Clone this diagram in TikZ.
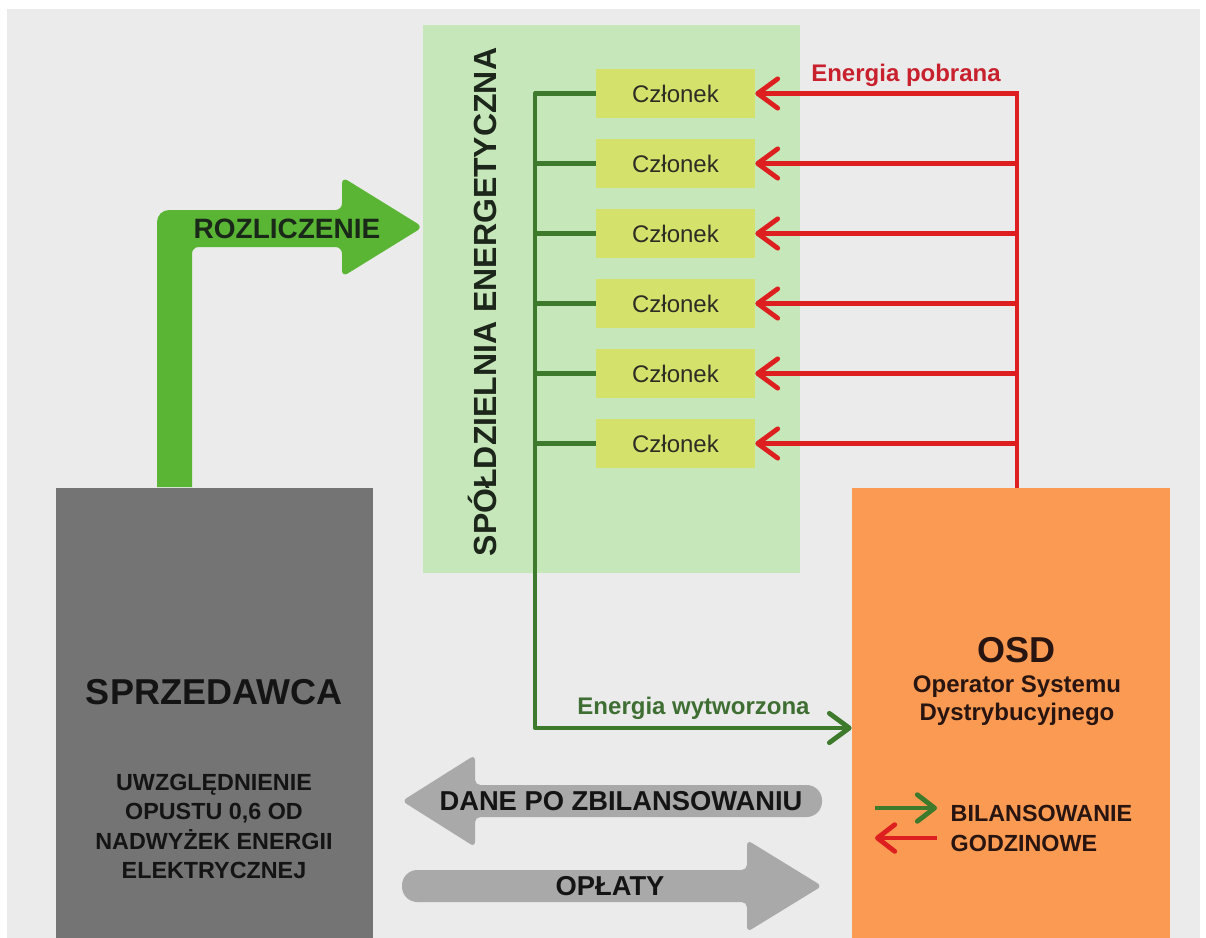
\documentclass[tikz,border=0pt]{standalone}
\usepackage{fontspec}
\setmainfont{Liberation Sans}
\usetikzlibrary{arrows.meta}

\begin{document}
\begin{tikzpicture}[x=0.75pt,y=0.75pt,yscale=-1,xscale=1,
    czlonek/.style={fill={rgb, 255:red, 212; green, 226; blue, 108 }, minimum width=119.25pt, minimum height=36.75pt, inner sep=0pt, font=\fontsize{18}{22}\selectfont, text={rgb, 255:red, 45; green, 45; blue, 35 }},
    gline/.style={draw={rgb, 255:red, 61; green, 122; blue, 44 }, line width=3.6pt},
    rline/.style={draw={rgb, 255:red, 221; green, 31; blue, 31 }, line width=3.6pt},
    barb/.style={-{Straight Barb[length=15pt,width=22pt,round]}},
    smallbarb/.style={-{Straight Barb[length=13pt,width=20pt,round]}},
    bigtext/.style={font=\bfseries\fontsize{21}{25}\selectfont, text={rgb, 255:red, 20; green, 20; blue, 20 }},
  ]
        %uncomment if require: \path (0,938);

        %Shape: Background
        \fill [white] (0,0) rectangle (1206,938) ;
        \fill [fill={rgb, 255:red, 235; green, 235; blue, 235 }] (7,9) rectangle (1200,938) ;
        \useasboundingbox (0,0) rectangle (1206,938) ;

        %Shape: Rectangle (spoldzielnia)
        \fill [fill={rgb, 255:red, 198; green, 231; blue, 185 }] (423,25) rectangle (800,573) ;

        %Shape: Polygon (rozliczenie)
        \fill [fill={rgb, 255:red, 90; green, 181; blue, 53 }, rounded corners=5pt] (157,487) [rounded corners=9pt] -- (157,210) [rounded corners=5pt] -- (342,210) -- (342,177) -- (423,227) -- (342,277) -- (342,247) -- (192,247) [sharp corners] -- (192,487) -- cycle ;

        %Shape: Polygon (dane po zbilansowaniu)
        \fill [fill={rgb, 255:red, 169; green, 169; blue, 169 }, rounded corners=4pt] (640,785) -- (475,785) -- (475,755) -- (402,801) -- (475,847) -- (475,817) [rounded corners=11.5pt] -- (822,817) -- (822,785) -- (640,785) ;
        %Shape: Polygon (oplaty)
        \fill [fill={rgb, 255:red, 169; green, 169; blue, 169 }, rounded corners=4pt] (600,870) -- (747,870) -- (747,840) -- (822,886) -- (747,932) -- (747,902) [rounded corners=11.5pt] -- (402,902) -- (402,870) -- (600,870) ;

        %Shape: Rectangle (sprzedawca)
        \node [fill={rgb, 255:red, 116; green, 116; blue, 116 }, minimum width=237.75pt, minimum height=337.5pt, inner sep=0pt] (sprz) at (214.5,712.5) {};
        %Shape: Rectangle (osd)
        \node [fill={rgb, 255:red, 251; green, 154; blue, 82 }, minimum width=238.5pt, minimum height=337.5pt, inner sep=0pt] (osd) at (1011,713) {};

        % Czlonkowie
        \node [czlonek] (m1) at (675.5,93.5) {Członek};
        \node [czlonek] (m2) at (675.5,163.5) {Członek};
        \node [czlonek] (m3) at (675.5,233.5) {Członek};
        \node [czlonek] (m4) at (675.5,303.5) {Członek};
        \node [czlonek] (m5) at (675.5,373.5) {Członek};
        \node [czlonek] (m6) at (675.5,443.5) {Członek};

        %Straight Lines (energia wytworzona)
        \coordinate (trunktop) at (535,93.5) ;
        \coordinate (trunkbot) at (535,728) ;
        \draw [gline, barb, line join=round] (m1.west) -- (trunktop) -- (trunkbot) -- (trunkbot -| osd.west) ;
        \draw [gline] (m2.west) -- (m2.west -| trunktop) ;
        \draw [gline] (m3.west) -- (m3.west -| trunktop) ;
        \draw [gline] (m4.west) -- (m4.west -| trunktop) ;
        \draw [gline] (m5.west) -- (m5.west -| trunktop) ;
        \draw [gline] (m6.west) -- (m6.west -| trunktop) ;

        %Straight Lines (energia pobrana)
        \coordinate (redtop) at (1017,93.5) ;
        \draw [rline, barb] (osd.north -| redtop) -- (redtop) -- (m1.east) ;
        \draw [rline, barb] (m2.east -| redtop) -- (m2.east) ;
        \draw [rline, barb] (m3.east -| redtop) -- (m3.east) ;
        \draw [rline, barb] (m4.east -| redtop) -- (m4.east) ;
        \draw [rline, barb] (m5.east -| redtop) -- (m5.east) ;
        \draw [rline, barb] (m6.east -| redtop) -- (m6.east) ;

        %Straight Lines (bilansowanie)
        \coordinate (bil1) at (875,808) ;
        \coordinate (bil2) at (937,808) ;
        \coordinate (bil3) at (937,838) ;
        \coordinate (bil4) at (875,838) ;
        \draw [gline, smallbarb] (bil1) -- (bil2) ;
        \draw [rline, smallbarb] (bil3) -- (bil4) ;

        % Text Node
        \node [rotate=90, font=\bfseries\fontsize{24}{28}\selectfont, text={rgb, 255:red, 28; green, 38; blue, 26 }] (coop) at (482,302) {SPÓŁDZIELNIA ENERGETYCZNA};
        % Text Node
        \node [font=\bfseries\fontsize{18}{22}\selectfont, text={rgb, 255:red, 200; green, 32; blue, 44 }] (pobrana) at (906,75) {Energia pobrana};
        % Text Node
        \node [font=\bfseries\fontsize{18}{22}\selectfont, text={rgb, 255:red, 63; green, 110; blue, 51 }] (wytworzona) at (693.5,708) {Energia wytworzona};
        % Text Node
        \node [bigtext, text={rgb, 255:red, 26; green, 40; blue, 26 }] (rozl) at (287,229) {ROZLICZENIE};
        % Text Node
        \node [bigtext, font=\bfseries\fontsize{20.5}{25}\selectfont] (dane) at (621,801) {DANE PO ZBILANSOWANIU};
        % Text Node
        \node [bigtext, font=\bfseries\fontsize{20.5}{25}\selectfont] (oplaty) at (610,886) {OPŁATY};
        % Text Node
        \node [bigtext, font=\bfseries\fontsize{27}{32}\selectfont] (sprzt) at (214,692) {SPRZEDAWCA};
        % Text Node
        \node [bigtext, font=\bfseries\fontsize{17.5}{22}\selectfont, align=center] (opust) at (214,826.5) {UWZGLĘDNIENIE\\OPUSTU 0,6 OD\\NADWYŻEK ENERGII\\ELEKTRYCZNEJ};
        % Text Node
        \node [bigtext, font=\bfseries\fontsize{27}{32}\selectfont, text={rgb, 255:red, 40; green, 20; blue, 16 }] (osdt) at (1016,650) {OSD};
        % Text Node
        \node [bigtext, font=\bfseries\fontsize{18}{21}\selectfont, align=center, text={rgb, 255:red, 40; green, 20; blue, 16 }] (osdfull) at (1017,701) {Operator Systemu\\Dystrybucyjnego};
        % Text Node
        \node [bigtext, font=\bfseries\fontsize{17.5}{22.5}\selectfont, align=left, anchor=west, text={rgb, 255:red, 40; green, 20; blue, 16 }] (bilt) at (946,828) {BILANSOWANIE\\GODZINOWE};

    \end{tikzpicture}
\end{document}
